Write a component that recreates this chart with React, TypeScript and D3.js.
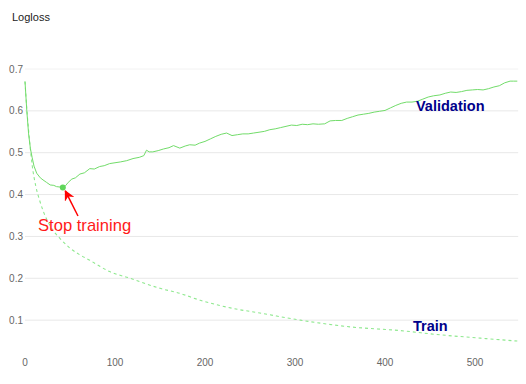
import React from "react";
import * as d3 from "d3";

const yTicks = [0.1, 0.2, 0.3, 0.4, 0.5, 0.6, 0.7];
const xTicks = [0, 100, 200, 300, 400, 500];

const validationEpochs = [0, 2, 4, 6, 8, 10, 13, 17, 20, 24, 28, 32, 35, 39, 42, 45, 48, 52, 56, 61, 66, 72, 77, 83, 88, 94, 100, 106, 113, 120, 127, 132, 135, 138, 142, 148, 154, 160, 165, 172, 178, 183, 189, 194, 200, 206, 212, 218, 224, 230, 236, 242, 248, 254, 260, 266, 272, 278, 284, 290, 296, 302, 308, 314, 320, 326, 333, 339, 345, 352, 358, 364, 370, 376, 382, 388, 394, 400, 406, 412, 418, 424, 430, 436, 442, 448, 454, 461, 467, 473, 479, 485, 491, 497, 503, 509, 515, 521, 527, 533, 539, 543, 547];
const validationValues = [0.670, 0.600, 0.545, 0.510, 0.488, 0.468, 0.451, 0.440, 0.435, 0.429, 0.423, 0.422, 0.419, 0.418, 0.417, 0.421, 0.429, 0.437, 0.440, 0.449, 0.452, 0.462, 0.461, 0.467, 0.469, 0.474, 0.476, 0.478, 0.481, 0.486, 0.489, 0.493, 0.506, 0.502, 0.502, 0.505, 0.509, 0.512, 0.517, 0.511, 0.516, 0.519, 0.518, 0.523, 0.527, 0.533, 0.539, 0.544, 0.547, 0.541, 0.543, 0.545, 0.545, 0.547, 0.549, 0.551, 0.555, 0.557, 0.560, 0.563, 0.566, 0.565, 0.568, 0.567, 0.569, 0.568, 0.569, 0.576, 0.577, 0.577, 0.582, 0.586, 0.590, 0.592, 0.594, 0.597, 0.599, 0.601, 0.607, 0.613, 0.618, 0.621, 0.621, 0.623, 0.628, 0.633, 0.636, 0.638, 0.642, 0.645, 0.644, 0.646, 0.649, 0.650, 0.651, 0.650, 0.653, 0.657, 0.660, 0.667, 0.671, 0.671, 0.671];

const trainEpochs = [0, 2, 5, 8, 12, 16, 20, 28, 39, 50, 61, 72, 94, 117, 150, 172, 194, 231, 261, 306, 361, 417, 461, 506, 547];
const trainValues = [0.670, 0.605, 0.530, 0.470, 0.420, 0.388, 0.362, 0.325, 0.295, 0.272, 0.256, 0.243, 0.216, 0.200, 0.176, 0.164, 0.148, 0.128, 0.117, 0.100, 0.084, 0.075, 0.065, 0.057, 0.050];

const stopEpoch = 42;
const stopValue = 0.417;

const yAxisTitle = "Logloss";
const stopLabel = "Stop training";
const validationLabel = "Validation";
const trainLabel = "Train";

export default function App() {
  const W = 526;
  const H = 384;
  const x = d3.scaleLinear().domain([0, 548]).range([25, 518.2]);
  const y = d3.scaleLinear().domain([0, 0.7]).range([362, 69]);

  const valData = validationEpochs.map((e, i) => [e, validationValues[i]] as [number, number]);
  const trainData = trainEpochs.map((e, i) => [e, trainValues[i]] as [number, number]);

  const valLine = d3.line<[number, number]>().x((d) => x(d[0])).y((d) => y(d[1]));
  const trainLine = d3
    .line<[number, number]>()
    .x((d) => x(d[0]))
    .y((d) => y(d[1]))
    .curve(d3.curveMonotoneX);

  const font = "'Liberation Sans', Arial, sans-serif";
  const sx = x(stopEpoch);
  const sy = y(stopValue);

  return (
    <svg
      width={W}
      height={H}
      style={{ position: "absolute", left: 0, top: 0, background: "#fff" }}
      fontFamily={font}
    >
      <defs>
        <marker id="arrowhead" viewBox="0 0 10 10" refX="9" refY="5" markerWidth="7" markerHeight="7" orient="auto">
          <path d="M0,0 L10,5 L0,10 L3,5 z" fill="#ff0000" />
        </marker>
      </defs>
      <text x={12} y={21} fontSize={11} fill="#222">
        {yAxisTitle}
      </text>
      {yTicks.map((t) => (
        <g key={t}>
          <line x1={x.range()[0]} x2={x.range()[1]} y1={y(t)} y2={y(t)} stroke={t === 0.7 ? "#f2f2f2" : "#e8e8e8"} strokeWidth={1} />
          <text x={23} y={y(t)} dy="0.35em" textAnchor="end" fontSize={10} fill="#666">
            {t.toFixed(1)}
          </text>
        </g>
      ))}
      {xTicks.map((t) => (
        <text key={t} x={x(t)} y={365.5} textAnchor="middle" fontSize={10} fill="#666">
          {t}
        </text>
      ))}
      <path d={trainLine(trainData) || ""} fill="none" stroke="#8ee88e" strokeWidth={1.1} strokeDasharray="3,3" />
      <path d={valLine(valData) || ""} fill="none" stroke="#72dc6a" strokeWidth={1} />
      <circle cx={sx} cy={sy} r={3} fill="#5fd65a" />
      <line x1={78} y1={216} x2={sx + 2.5} y2={sy + 3.5} stroke="#ff0000" strokeWidth={1.5} markerEnd="url(#arrowhead)" />
      <text x={38} y={231} fontSize={16.6} fill="#ff1a1a">
        {stopLabel}
      </text>
      <text x={416} y={110.5} fontSize={14.5} fontWeight="bold" fill="#00008b">
        {validationLabel}
      </text>
      <text x={413} y={330.5} fontSize={14.5} fontWeight="bold" fill="#00008b">
        {trainLabel}
      </text>
    </svg>
  );
}
